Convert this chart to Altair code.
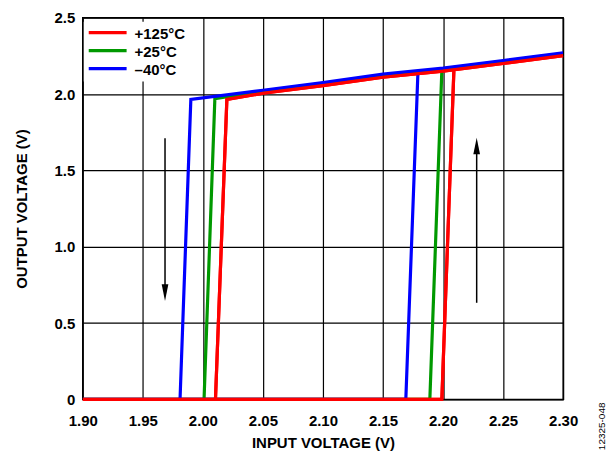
import altair as alt
import pandas as pd

series = ["+125°C", "+25°C", "–40°C"]
colors = ["#FF0000", "#009900", "#0000FF"]

# falling edge (input decreasing): top corner x, top y, bottom x
fall_top_x = [2.020, 2.010, 1.990]
fall_top_y = [1.965, 1.970, 1.965]
fall_bot_x = [2.0105, 2.001, 1.981]
# rising edge (input increasing): bottom x, top x, top y
rise_bot_x = [2.199, 2.189, 2.169]
rise_top_x = [2.209, 2.199, 2.179]
rise_top_y = [2.150, 2.155, 2.125]
# high output branch samples
high_x = [2.05, 2.10, 2.15, 2.20, 2.25, 2.30]
high_y = {
    "+125°C": [2.005, 2.055, 2.110, 2.150, 2.200, 2.252],
    "+25°C": [2.020, 2.070, 2.125, 2.165, 2.215, 2.265],
    "–40°C": [2.025, 2.075, 2.130, 2.170, 2.220, 2.270],
}
x_start = 1.90

rows = []
for i, s in enumerate(series):
    seg = f"{s}-a"
    pts = [(x_start, 0.0), (rise_bot_x[i], 0.0), (rise_top_x[i], rise_top_y[i])]
    for k, (x, y) in enumerate(pts):
        rows.append(dict(series=s, seg=seg, o=k, x=x, y=y))
    seg = f"{s}-b"
    pts = [(fall_bot_x[i], 0.0), (fall_top_x[i], fall_top_y[i])] + list(zip(high_x, high_y[s]))
    for k, (x, y) in enumerate(pts):
        rows.append(dict(series=s, seg=seg, o=k, x=x, y=y))
df = pd.DataFrame(rows)

arrow_x = [1.9685, 2.228]
arrow_y0 = [1.71, 0.633]
arrow_y1 = [0.70, 1.66]
arrow_shape = ["M-0.4,-1L0.4,-1L0,1Z", "M-0.4,1L0.4,1L0,-1Z"]
arrows = pd.DataFrame(dict(x=arrow_x, y0=arrow_y0, y1=arrow_y1, shape=arrow_shape))

FONT = "Liberation Sans"

xs = alt.Scale(domain=[1.90, 2.30], nice=False, zero=False)
ys = alt.Scale(domain=[0, 2.5], nice=False)
cs = alt.Scale(domain=series, range=colors)

lines = alt.Chart(df).mark_line(strokeWidth=3.2, clip=True).encode(
    x=alt.X("x:Q", scale=xs,
            axis=alt.Axis(values=[1.90, 1.95, 2.00, 2.05, 2.10, 2.15, 2.20, 2.25, 2.30],
                          format=".2f", title="INPUT VOLTAGE (V)")),
    y=alt.Y("y:Q", scale=ys,
            axis=alt.Axis(values=[0, 0.5, 1.0, 1.5, 2.0, 2.5],
                          labelExpr="datum.value == 0 ? '0' : format(datum.value, '.1f')",
                          title="OUTPUT VOLTAGE (V)")),
    color=alt.Color("series:N", scale=cs, legend=None),
    detail="seg:N",
    order="o:Q",
)

red = alt.Chart(df[df.series == "+125°C"]).mark_line(strokeWidth=3.2, color="#FF0000").encode(
    x=alt.X("x:Q", scale=xs), y=alt.Y("y:Q", scale=ys), detail="seg:N", order="o:Q")

rule = alt.Chart(arrows).mark_rule(color="black", strokeWidth=1.5).encode(
    x=alt.X("x:Q", scale=xs), y=alt.Y("y0:Q", scale=ys), y2="y1:Q")
heads = alt.Chart(arrows).mark_point(filled=True, color="black", opacity=1, size=280).encode(
    x=alt.X("x:Q", scale=xs), y=alt.Y("y1:Q", scale=ys), shape=alt.Shape("shape:N", scale=None))

# manual legend (box over the grid, top-left of the plot)
leg_layers = [alt.Chart(pd.DataFrame({"a": [0]})).mark_rect(fill="white").encode(
    x=alt.value(1), x2=alt.value(112), y=alt.value(4), y2=alt.value(64))]
for i, s in enumerate(series):
    row_y = 15 + 18 * i
    one = pd.DataFrame({"series": [s]})
    leg_layers.append(alt.Chart(one).mark_rule(strokeWidth=3.2, color=colors[i]).encode(
        x=alt.value(6), x2=alt.value(44), y=alt.value(row_y)))
    leg_layers.append(alt.Chart(one).mark_text(
        align="left", baseline="middle", font=FONT, fontSize=15, fontWeight="bold",
        color="black").encode(x=alt.value(52), y=alt.value(row_y + 1), text="series:N"))

code = alt.Chart(pd.DataFrame({"t": ["12325-048"]})).mark_text(
    angle=270, fontSize=10, font=FONT, color="black", baseline="middle").encode(
    x=alt.value(521), y=alt.value(410), text="t:N")

chart = alt.layer(lines, red, rule, heads, *leg_layers, code).properties(
    width=482, height=383,
    autosize=alt.AutoSizeParams(type="none"),
    padding={"left": 75, "top": 9, "right": 45, "bottom": 53},
).configure_axis(
    grid=True, gridColor="black", gridWidth=1.2, gridOpacity=1,
    domain=False, ticks=False, labelFlush=False,
    labelFont=FONT, labelFontSize=15, labelFontWeight="bold", labelColor="black",
    titleFont=FONT, titleFontSize=15, titleFontWeight="bold", titleColor="black",
).configure_axisX(labelPadding=14, titlePadding=7).configure_axisY(
    labelPadding=8, titlePadding=25
).configure_view(stroke="black", strokeWidth=1.5)

chart.save("out.html", embed_options={"renderer": "svg", "actions": False})
